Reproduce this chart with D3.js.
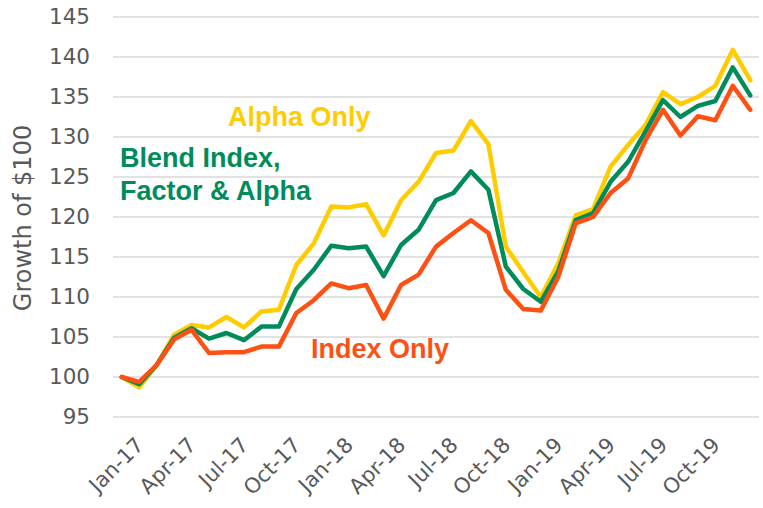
<!DOCTYPE html>
<html>
<head>
<meta charset="utf-8">
<script src="https://cdn.jsdelivr.net/npm/d3@7"></script>
<style>
  html, body { margin: 0; padding: 0; background: #ffffff; }
  svg { display: block; }
</style>
</head>
<body>
<svg id="chart" width="763" height="508"></svg>
<script>
// ---------------- DATA ----------------
const months = [
  "Dec-16",
  "Jan-17","Feb-17","Mar-17","Apr-17","May-17","Jun-17","Jul-17","Aug-17","Sep-17","Oct-17","Nov-17","Dec-17",
  "Jan-18","Feb-18","Mar-18","Apr-18","May-18","Jun-18","Jul-18","Aug-18","Sep-18","Oct-18","Nov-18","Dec-18",
  "Jan-19","Feb-19","Mar-19","Apr-19","May-19","Jun-19","Jul-19","Aug-19","Sep-19","Oct-19","Nov-19","Dec-19"
];
const tickLabels = ["Jan-17","Apr-17","Jul-17","Oct-17","Jan-18","Apr-18","Jul-18","Oct-18","Jan-19","Apr-19","Jul-19","Oct-19"];
const yTicks = [95, 100, 105, 110, 115, 120, 125, 130, 135, 140, 145];

const alphaOnly = [100, 98.7, 101.5, 105.3, 106.5, 106.2, 107.5, 106.2, 108.2, 108.4, 114.0, 116.7,
  121.3, 121.2, 121.6, 117.7, 122.1, 124.4, 128.0, 128.3, 132.0, 129.1, 116.3, 113.1,
  110.0, 114.2, 120.2, 121.0, 126.3, 129.0, 131.5, 135.6, 134.1, 135.0, 136.4, 140.9, 137.1];
const blend = [100, 99.1, 101.5, 104.9, 106.1, 104.8, 105.5, 104.6, 106.3, 106.3, 111.0, 113.4,
  116.4, 116.1, 116.3, 112.6, 116.5, 118.4, 122.1, 123.0, 125.7, 123.4, 113.8, 111.0,
  109.4, 113.2, 119.6, 120.5, 124.4, 126.9, 130.7, 134.6, 132.5, 133.9, 134.5, 138.7, 135.2];
const indexOnly = [100, 99.4, 101.5, 104.7, 105.9, 103.0, 103.1, 103.1, 103.8, 103.8, 108.0, 109.6,
  111.7, 111.1, 111.5, 107.3, 111.5, 112.8, 116.3, 118.0, 119.6, 118.0, 110.9, 108.5,
  108.3, 112.5, 119.2, 120.0, 123.0, 124.8, 129.6, 133.4, 130.2, 132.6, 132.1, 136.4, 133.4];

const seriesNames = ["Alpha Only", "Blend Index, Factor & Alpha", "Index Only"];
const seriesColors = ["#FFCC00", "#008C5A", "#FF5014"];

// ---------------- CHART ----------------
const svg = d3.select("#chart");
const plot = { left: 113, right: 759, top: 17, bottom: 417 };

const x = d3.scalePoint().domain(months).range([plot.left, plot.right]).padding(0.5);
const y = d3.scaleLinear().domain([95, 145]).range([plot.bottom, plot.top]);

// gridlines
svg.append("g").selectAll("line").data(yTicks).join("line")
  .attr("x1", plot.left).attr("x2", plot.right)
  .attr("y1", d => y(d)).attr("y2", d => y(d))
  .attr("stroke", "#d9d9d9").attr("stroke-width", 1.5);

// y axis
const yAxis = d3.axisLeft(y).tickValues(yTicks).tickSize(0).tickPadding(0);
const gy = svg.append("g").attr("transform", `translate(90,0)`).call(yAxis);
gy.select(".domain").remove();
gy.selectAll("text")
  .attr("font-family", "DejaVu Sans, sans-serif")
  .attr("font-size", 21.5)
  .attr("fill", "#595959");

// x axis
const xAxis = d3.axisBottom(x).tickValues(tickLabels).tickSize(0).tickPadding(0);
const gx = svg.append("g").attr("transform", `translate(0,${plot.bottom})`).call(xAxis);
gx.select(".domain").remove();
gx.selectAll("text")
  .attr("font-family", "DejaVu Sans, sans-serif")
  .attr("font-size", 21)
  .attr("fill", "#595959")
  .attr("text-anchor", "end")
  .attr("dy", null)
  .attr("y", 0)
  .attr("transform", "translate(1,25) rotate(-45)")
  .attr("dominant-baseline", "middle");

// y title
svg.append("text")
  .attr("transform", "translate(31,218) rotate(-90)")
  .attr("text-anchor", "middle")
  .attr("font-family", "DejaVu Sans, sans-serif")
  .attr("font-size", 24)
  .attr("fill", "#595959")
  .text("Growth of $100");

// lines
const line = d3.line().x((d, i) => x(months[i])).y(d => y(d));
const allSeries = [alphaOnly, blend, indexOnly];
svg.append("g").selectAll("path").data(allSeries).join("path")
  .attr("d", d => line(d))
  .attr("fill", "none")
  .attr("stroke", (d, i) => seriesColors[i])
  .attr("stroke-width", 4.5)
  .attr("stroke-linejoin", "round")
  .attr("stroke-linecap", "round");

// annotations
const ann = svg.append("g")
  .attr("font-family", "Liberation Sans, Arial, sans-serif")
  .attr("font-weight", "bold")
  .attr("font-size", 27);
ann.append("text").attr("x", 228).attr("y", 126).attr("fill", seriesColors[0]).text("Alpha Only");
ann.append("text").attr("x", 120).attr("y", 167).attr("fill", seriesColors[1]).text("Blend Index,");
ann.append("text").attr("x", 120).attr("y", 200).attr("fill", seriesColors[1]).text("Factor & Alpha");
ann.append("text").attr("x", 311).attr("y", 358).attr("fill", seriesColors[2]).text("Index Only");
</script>
</body>
</html>
